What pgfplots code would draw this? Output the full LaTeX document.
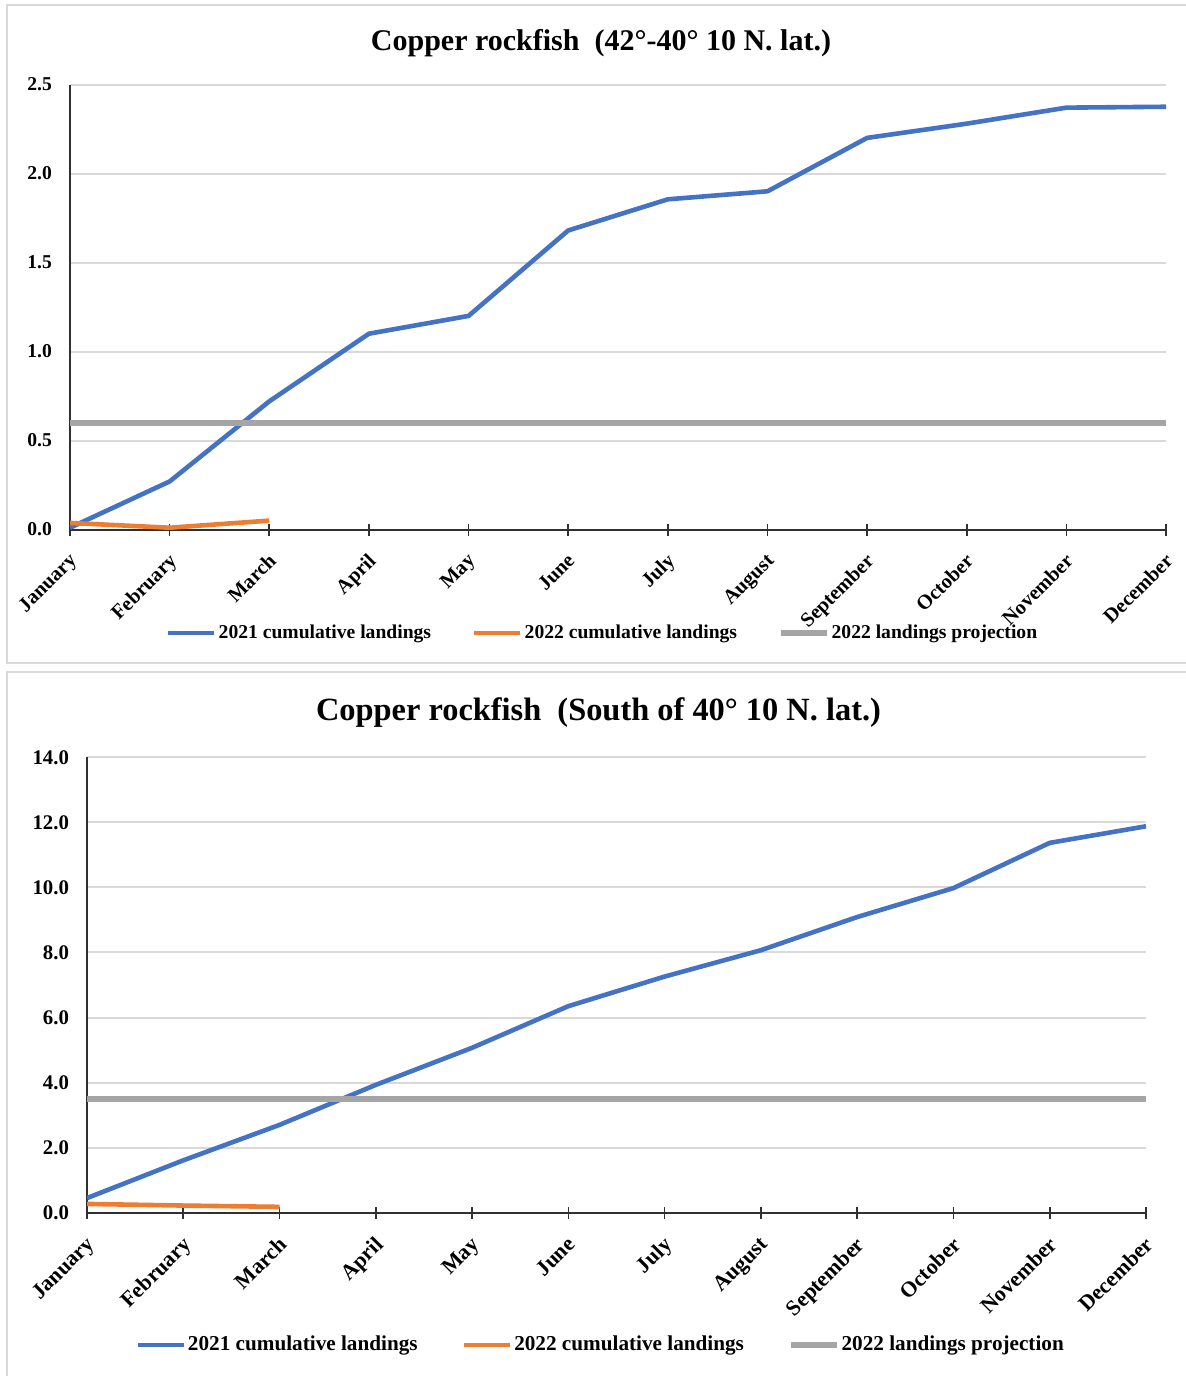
\documentclass[border=0pt]{standalone}
\usepackage{fontspec}
\setmainfont{Liberation Serif}
\usepackage{pgfplots}
\pgfplotsset{compat=1.18}
\definecolor{cblue}{HTML}{4472C4}
\definecolor{corange}{HTML}{ED7D31}
\definecolor{cgray}{HTML}{A5A5A5}
\definecolor{cgrid}{HTML}{D9D9D9}
\definecolor{caxis}{HTML}{303030}
\definecolor{cframe}{HTML}{D9D9D9}

\pgfplotsset{
  cstyle/.style={
    scale only axis,
    axis lines=left,
    axis line style={-, caxis, line width=1pt},
    xmin=0, xmax=11,
    xtick={0,...,11},
    xticklabels={January,February,March,April,May,June,July,August,September,October,November,December},
    xtick style={caxis, line width=0.8pt},
    major tick length=6pt,
    tick align=center,
    ytick style={draw=none},
    ymajorgrids,
    grid style={cgrid, line width=1pt},
    /pgf/number format/assume math mode=true,
    /pgf/number format/fixed,
    /pgf/number format/fixed zerofill,
    /pgf/number format/precision=1,
    xticklabel style={rotate=45, anchor=north east, inner sep=1pt, xshift=-5.5pt, yshift=-4pt},
    yticklabel style={xshift=-2.5pt},
    legend columns=3,
    legend style={draw=none, fill=none, anchor=center,
      nodes={inner xsep=1pt, inner ysep=1pt},
      /tikz/every even column/.append style={column sep=19.5pt}},
    legend image code/.code={\draw[#1] (0pt,0pt) -- (23pt,0pt);},
  }
}

\begin{document}
\begin{tikzpicture}
\useasboundingbox (0,0) rectangle (592.5pt,-688pt);
\draw[cframe, line width=1pt] (3.5pt,-2.5pt) rectangle (594pt,-331.5pt);
\draw[cframe, line width=1pt] (3.5pt,-336pt) rectangle (594pt,-692pt);

\node[anchor=base, font=\fontsize{15}{18}\selectfont\bfseries] at (300.5pt,-25.25pt) {Copper rockfish\ \ (42°-40° 10 N. lat.)};
\node[anchor=base, font=\fontsize{16.2}{19}\selectfont\bfseries] at (299.25pt,-360pt) {Copper rockfish\ \ (South of 40° 10 N. lat.)};

\begin{axis}[cstyle,
  at={(35pt,-264.75pt)}, anchor=south west,
  width=548pt, height=222.5pt,
  ymin=0, ymax=2.5, ytick={0,0.5,...,2.5},
  yticklabel style={font=\fontsize{9.8}{11}\selectfont\bfseries},
  xticklabel style={font=\fontsize{10.2}{12}\selectfont\bfseries},
  legend style={at={(0.486,-0.2326)}, font=\fontsize{9.8}{12}\selectfont\bfseries},
]
\addplot[cblue, line width=2.3pt] coordinates {(0,0.01) (1,0.27) (2,0.72) (3,1.10) (4,1.20) (5,1.68) (6,1.855) (7,1.90) (8,2.20) (9,2.28) (10,2.37) (11,2.375)};
\addlegendentry{2021 cumulative landings}
\addplot[corange, line width=2.3pt] coordinates {(0,0.037) (1,0.01) (2,0.05)};
\addlegendentry{2022 cumulative landings}
\addplot[cgray, line width=2.8pt] coordinates {(0,0.60) (1,0.60) (2,0.60) (3,0.60) (4,0.60) (5,0.60) (6,0.60) (7,0.60) (8,0.60) (9,0.60) (10,0.60) (11,0.60)};
\addlegendentry{2022 landings projection}
\end{axis}

\begin{axis}[cstyle,
  at={(43.5pt,-606.35pt)}, anchor=south west,
  width=529.5pt, height=227.7pt,
  ymin=0, ymax=14, ytick={0,2,...,14},
  yticklabel style={font=\fontsize{10.4}{12}\selectfont\bfseries},
  xticklabel style={font=\fontsize{10.9}{13}\selectfont\bfseries},
  legend style={at={(0.485,-0.2905)}, font=\fontsize{10.6}{13}\selectfont\bfseries,
    /tikz/every even column/.append style={column sep=21pt}},
]
\addplot[cblue, line width=2.3pt] coordinates {(0,0.45) (1,1.61) (2,2.70) (3,3.93) (4,5.07) (5,6.35) (6,7.26) (7,8.07) (8,9.09) (9,9.98) (10,11.37) (11,11.88)};
\addlegendentry{2021 cumulative landings}
\addplot[corange, line width=2.3pt] coordinates {(0,0.27) (1,0.22) (2,0.18)};
\addlegendentry{2022 cumulative landings}
\addplot[cgray, line width=2.8pt] coordinates {(0,3.5) (1,3.5) (2,3.5) (3,3.5) (4,3.5) (5,3.5) (6,3.5) (7,3.5) (8,3.5) (9,3.5) (10,3.5) (11,3.5)};
\addlegendentry{2022 landings projection}
\end{axis}
\end{tikzpicture}
\end{document}
